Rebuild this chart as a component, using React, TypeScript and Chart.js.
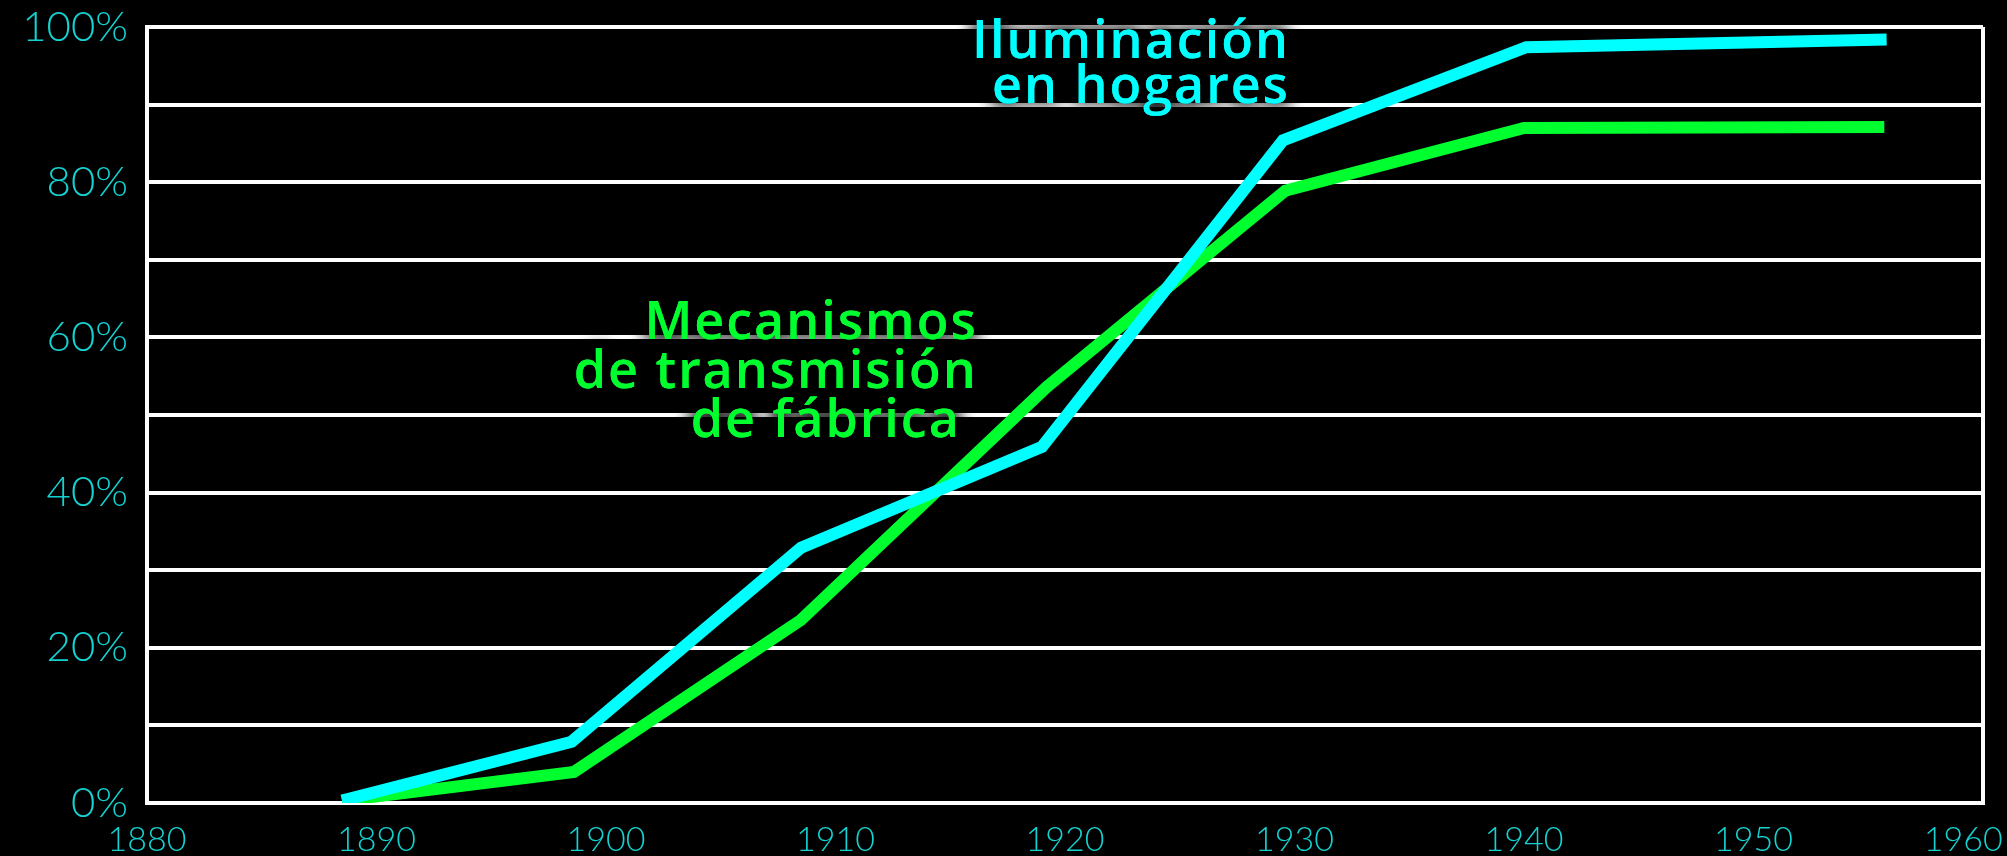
import React, { useEffect, useRef } from "react";
import { Chart, registerables } from "chart.js";

Chart.register(...registerables);

// ---- data ----
const illumYears = [1888.5, 1898.5, 1908.5, 1919.0, 1929.5, 1940.1, 1955.8];
const illumValues = [0.3, 7.9, 32.9, 45.9, 85.4, 97.4, 98.4];
const mechYears = [1888.5, 1898.6, 1908.5, 1919.2, 1929.6, 1940.0, 1955.7];
const mechValues = [0.3, 4.0, 23.6, 53.6, 78.9, 87.0, 87.1];

const illumLabel = ["Iluminación", "en hogares"];
const mechLabel = ["Mecanismos", "de transmisión", "de fábrica"];

const xMin = 1880;
const xMax = 1960;
const xStep = 10;
const yMin = 0;
const yMax = 100;
const yStep = 10;
const yLabelEvery = 20;

const CYAN = "#00ffff";
const GREEN = "#00ff2e";
const TICK = "#14d2d2";
const W = 2007;
const H = 856;

const textPlugin = {
  id: "seriesText",
  afterDatasetsDraw(chart: any) {
    const { ctx } = chart;
    const xs = chart.scales.x;
    const ys = chart.scales.y;
    const draw = (
      lines: string[],
      xVal: number,
      yVal: number,
      color: string,
      lineH: number,
      offsets: number[]
    ) => {
      ctx.save();
      ctx.font = '600 52px "Open Sans"';
      (ctx as any).letterSpacing = "2px";
      ctx.textAlign = "right";
      ctx.textBaseline = "alphabetic";
      ctx.fillStyle = color;
      ctx.shadowColor = "rgba(0,0,0,1)";
      ctx.shadowBlur = 18;
      const px = xs.getPixelForValue(xVal);
      const py = ys.getPixelForValue(yVal);
      for (let pass = 0; pass < 3; pass++) {
        lines.forEach((t, i) => ctx.fillText(t, px + (offsets[i] || 0), py + i * lineH));
      }
      ctx.restore();
    };
    draw(illumLabel, 1929.8, 96.0, CYAN, 45, [0, 0]);
    draw(mechLabel, 1916.2, 59.8, GREEN, 49, [0, 0, -17]);
  },
};

export default function App() {
  const ref = useRef<HTMLCanvasElement | null>(null);

  useEffect(() => {
    document.body.style.margin = "0";
    document.body.style.background = "#000";
    const canvas = ref.current;
    if (!canvas) return;
    const chart = new Chart(canvas, {
      type: "line",
      data: {
        datasets: [
          {
            label: illumLabel.join(" "),
            data: illumYears.map((x, i) => ({ x, y: illumValues[i] })),
            borderColor: CYAN,
            borderWidth: 12,
            pointRadius: 0,
            tension: 0,
            fill: false,
          },
          {
            label: mechLabel.join(" "),
            data: mechYears.map((x, i) => ({ x, y: mechValues[i] })),
            borderColor: GREEN,
            borderWidth: 12,
            pointRadius: 0,
            tension: 0,
            fill: false,
          },
        ],
      },
      options: {
        animation: false,
        responsive: true,
        maintainAspectRatio: false,
        layout: { padding: { top: 27, right: 24, left: 0, bottom: 0 } },
        plugins: {
          legend: { display: false },
          tooltip: { enabled: false },
          title: { display: false },
        },
        scales: {
          x: {
            type: "linear",
            min: xMin,
            max: xMax,
            afterFit: (s: any) => {
              s.height = 53;
              s.paddingLeft = 0;
              s.paddingRight = 0;
            },
            ticks: {
              stepSize: xStep,
              autoSkip: false,
              maxRotation: 0,
              padding: 17,
              color: TICK,
              font: { family: "Lato", size: 34, weight: "300" },
              callback: (v: any) => (v === xMax ? `${v}\u2007\u2007` : `${v}`),
            },
            grid: {
              drawTicks: false,
              lineWidth: 4,
              color: (c: any) => (c.tick && c.tick.value === xMax ? "#ffffff" : "rgba(0,0,0,0)"),
            },
            border: { display: true, color: "#ffffff", width: 4 },
          },
          y: {
            type: "linear",
            min: yMin,
            max: yMax,
            afterFit: (s: any) => {
              s.width = 147;
              s.paddingTop = 0;
              s.paddingBottom = 0;
            },
            ticks: {
              stepSize: yStep,
              padding: 19,
              color: TICK,
              font: { family: "Lato", size: 42, weight: "300" },
              callback: (v: any) => (Number(v) % yLabelEvery === 0 ? `${v}%` : ""),
            },
            grid: { drawTicks: false, lineWidth: 4, color: "#ffffff" },
            border: { display: true, color: "#ffffff", width: 4 },
          },
        },
      },
      plugins: [textPlugin],
    });
    return () => chart.destroy();
  }, []);

  return (
    <div
      style={{
        position: "fixed",
        left: 0,
        top: 0,
        width: W,
        height: H,
        background: "#000",
      }}
    >
      <canvas ref={ref} />
    </div>
  );
}
